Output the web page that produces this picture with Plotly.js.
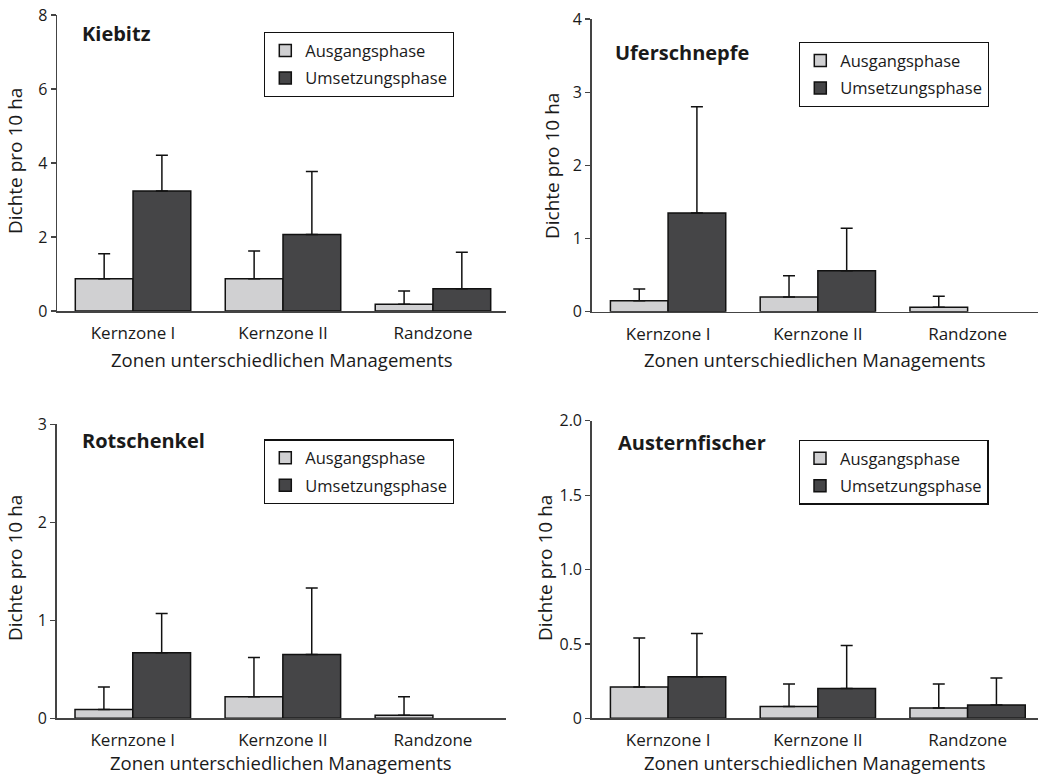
<!DOCTYPE html>
<html><head><meta charset="utf-8">
<script src="https://cdn.plot.ly/plotly-3.0.1.min.js"></script>
<style>body{margin:0;background:#fff}</style>
</head><body><div id="chart" style="width:1046px;height:777px"></div>
<script>
// ---- data ----
const zones = ['Kernzone I', 'Kernzone II', 'Randzone'];
const seriesNames = ['Ausgangsphase', 'Umsetzungsphase'];
const panelTitles = ['Kiebitz', 'Uferschnepfe', 'Rotschenkel', 'Austernfischer'];
const xTitle = 'Zonen unterschiedlichen Managements';
const yTitle = 'Dichte pro 10 ha';

// bar heights (mean density) and upper end of error bar
const kiebitzAusgang = [0.87, 0.87, 0.18];
const kiebitzAusgangTop = [1.55, 1.62, 0.54];
const kiebitzUmsetzung = [3.24, 2.07, 0.60];
const kiebitzUmsetzungTop = [4.21, 3.77, 1.59];

const uferAusgang = [0.15, 0.20, 0.06];
const uferAusgangTop = [0.31, 0.49, 0.21];
const uferUmsetzung = [1.35, 0.56, 0];
const uferUmsetzungTop = [2.80, 1.14, null];

const rotAusgang = [0.09, 0.22, 0.03];
const rotAusgangTop = [0.32, 0.62, 0.22];
const rotUmsetzung = [0.67, 0.65, 0];
const rotUmsetzungTop = [1.07, 1.33, null];

const austerAusgang = [0.21, 0.08, 0.07];
const austerAusgangTop = [0.54, 0.23, 0.23];
const austerUmsetzung = [0.28, 0.20, 0.09];
const austerUmsetzungTop = [0.57, 0.49, 0.27];

const yTicks1 = [0, 2, 4, 6, 8];
const yTicks2 = [0, 1, 2, 3, 4];
const yTicks3 = [0, 1, 2, 3];
const yTicks4 = [0, 0.5, 1.0, 1.5, 2.0];
const yTickText4 = ['0', '0.5', '1.0', '1.5', '2.0'];

// ---- styling ----
const FONT = 'Open Sans, Liberation Sans, Arial, sans-serif';
const TXT = '#1a1a1a';
const lightCol = '#d0d0d2';
const darkCol = '#454547';

const panels = [
  {a: kiebitzAusgang, at: kiebitzAusgangTop, u: kiebitzUmsetzung, ut: kiebitzUmsetzungTop, ticks: yTicks1, tt: yTicks1.map(String), max: 8},
  {a: uferAusgang, at: uferAusgangTop, u: uferUmsetzung, ut: uferUmsetzungTop, ticks: yTicks2, tt: yTicks2.map(String), max: 4},
  {a: rotAusgang, at: rotAusgangTop, u: rotUmsetzung, ut: rotUmsetzungTop, ticks: yTicks3, tt: yTicks3.map(String), max: 3},
  {a: austerAusgang, at: austerAusgangTop, u: austerUmsetzung, ut: austerUmsetzungTop, ticks: yTicks4, tt: yTickText4, max: 2}
];

const W = 1046, H = 777;
// pixel boxes of plot areas: [left, right, top(max), bottom(0)]
const boxes = [
  [57, 506, 15, 311],
  [591.7, 1038, 19, 311.7],
  [56.7, 506, 424.3, 718.3],
  [591.7, 1038, 420.7, 718.3]
];
const xRanges = [[-0.507, 2.487], [-0.51, 2.47], [-0.507, 2.487], [-0.51, 2.47]];
const legendPos = [[264, 32], [799, 42], [264, 439.3], [798.7, 439.7]];
const titlePos = [[80, 34], [613, 53], [80, 440], [616, 442]];
const yTitlePos = [[15, 161], [552, 166], [15, 568], [545, 568]];
const xTitleOff = [48, 48, 44, 44];

// error lengths above the bar; missing -> NaN so no error bar is drawn
function diff(top, v) { return top.map((t, i) => (t === null ? NaN : +(t - v[i]).toFixed(3))); }
function zeros(arr) { return arr.map(t => (t === null ? NaN : 0)); }

const traces = [];
const layout = {
  width: W, height: H,
  margin: {l: 0, r: 0, t: 0, b: 0},
  paper_bgcolor: '#fff', plot_bgcolor: '#fff',
  barmode: 'group', bargap: 0.23, bargroupgap: 0,
  font: {family: FONT, color: TXT, size: 16},
  annotations: [],
  showlegend: true
};

panels.forEach((p, i) => {
  const n = i + 1;
  const xa = n === 1 ? 'x' : 'x' + n;
  const ya = n === 1 ? 'y' : 'y' + n;
  const lg = n === 1 ? 'legend' : 'legend' + n;
  const series = [[p.a, p.at, lightCol], [p.u, p.ut, darkCol]];
  series.forEach((s, k) => {
    traces.push({
      type: 'bar', x: zones, y: s[0], name: seriesNames[k],
      xaxis: xa, yaxis: ya, legend: lg, legendgroup: lg + k,
      marker: {color: s[2], opacity: s[0].map(v => (v === 0 ? 0 : 1)),
        line: {color: '#111', width: s[0].map(v => (v === 0 ? 0 : 1.5))}},
      error_y: {type: 'data', symmetric: false, array: diff(s[1], s[0]), arrayminus: zeros(s[1]),
        color: '#111', thickness: 1.5, width: 6},
      hoverinfo: 'skip'
    });
  });
  const b = boxes[i];
  layout['xaxis' + (n === 1 ? '' : n)] = {
    domain: [b[0] / W, b[1] / W], anchor: ya, type: 'category', range: xRanges[i],
    showline: true, linecolor: '#444', linewidth: 1.5, ticks: '', showgrid: false, zeroline: false,
    ticklabelstandoff: 6,
    tickfont: {family: FONT, size: 17, color: TXT}, fixedrange: true
  };
  layout['yaxis' + (n === 1 ? '' : n)] = {
    domain: [1 - b[3] / H, 1 - b[2] / H], anchor: xa, range: [0, p.max],
    tickvals: p.ticks, ticktext: p.tt,
    showline: true, linecolor: '#444', linewidth: 1.5, ticks: 'outside', ticklen: 5, tickwidth: 1.2, tickcolor: '#444',
    showgrid: false, zeroline: false, tickfont: {family: FONT, size: 16, color: TXT}, fixedrange: true
  };
  layout[lg] = {
    x: legendPos[i][0] / W, y: 1 - legendPos[i][1] / H, xanchor: 'left', yanchor: 'top',
    bgcolor: '#fff', bordercolor: '#111', borderwidth: 1.3,
    font: {family: FONT, size: 16.5, color: TXT}, traceorder: 'grouped', tracegroupgap: 3
  };
  layout.annotations.push({
    xref: 'paper', yref: 'paper', x: titlePos[i][0] / W, y: 1 - titlePos[i][1] / H,
    xanchor: 'left', yanchor: 'middle', showarrow: false, text: '<b>' + panelTitles[i] + '</b>',
    font: {family: FONT, size: 20, color: TXT}
  });
  layout.annotations.push({
    xref: 'paper', yref: 'paper', x: (b[0] + b[1]) / 2 / W, y: 1 - (b[3] + xTitleOff[i]) / H,
    xanchor: 'center', yanchor: 'middle', showarrow: false, text: xTitle,
    font: {family: FONT, size: 18.5, color: TXT}
  });
  layout.annotations.push({
    xref: 'paper', yref: 'paper', x: yTitlePos[i][0] / W, y: 1 - yTitlePos[i][1] / H,
    xanchor: 'center', yanchor: 'middle', showarrow: false, text: yTitle, textangle: -90,
    font: {family: FONT, size: 19, color: TXT}
  });
});

Plotly.newPlot('chart', traces, layout, {displayModeBar: false, staticPlot: true});
</script>
</body></html>
